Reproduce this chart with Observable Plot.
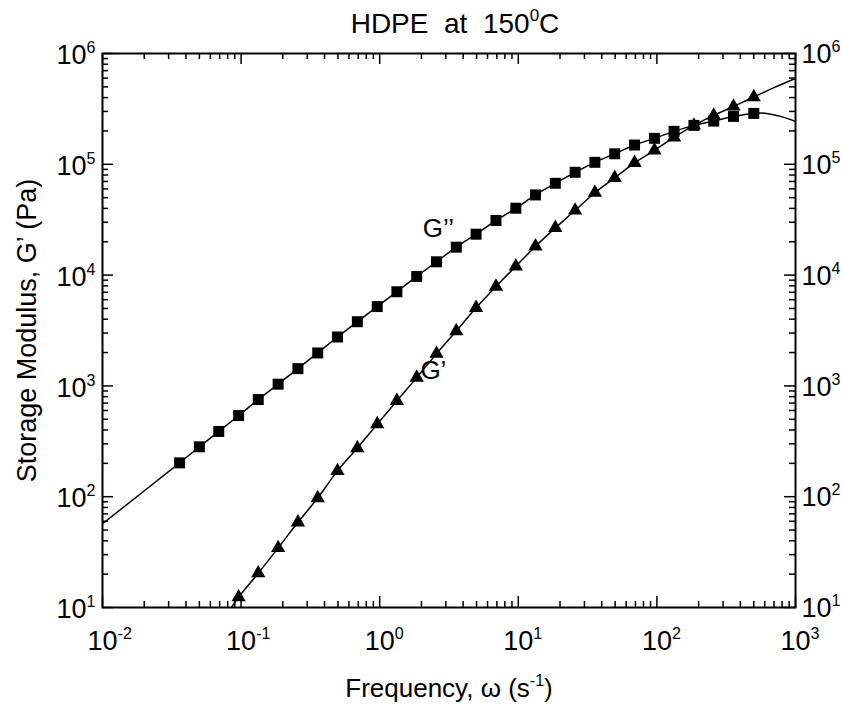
<!DOCTYPE html>
<html>
<head>
<meta charset="utf-8">
<script src="https://cdn.jsdelivr.net/npm/d3@7"></script>
<script src="https://cdn.jsdelivr.net/npm/@observablehq/plot@0.6"></script>
<style>
  body { margin: 0; background: #fff; }
  svg text { white-space: pre; }
</style>
</head>
<body>
<div id="chart"></div>
<script>
// ---- data ----
const frequency = [0.036, 0.050, 0.069, 0.096, 0.133, 0.185, 0.257, 0.357, 0.496, 0.69,
                   0.96, 1.33, 1.85, 2.57, 3.57, 4.96, 6.9, 9.6, 13.3, 18.5,
                   25.7, 35.7, 49.6, 69, 96, 133, 185, 257, 357, 500];
const lossModulus = [202, 282, 388, 540, 753, 1036, 1432, 1983, 2763, 3795,
                     5200, 7075, 9730, 13180, 17870, 23400, 31100, 40150, 52900, 67400,
                     84700, 104200, 124400, 149200, 171500, 198300, 224500, 245500, 270600, 287900];
const storageFrequency = frequency.slice(3);
const storageModulus = [12.4, 20.4, 34.5, 58.7, 97.3, 171, 275, 452, 733, 1188,
                        1955, 3128, 5073, 7875, 12000, 18170, 26700, 38300, 55400, 75500,
                        103200, 133700, 175000, 224500, 276300, 333200, 404700];
// fitted-curve extensions beyond the measured range
const lossFitLowFreq = [0.01], lossFitLowVal = [57];
const lossFitHighFreq = [600, 800, 1000], lossFitHighVal = [289000, 268000, 244000];
const storageFitLowFreq = [0.085], storageFitLowVal = [10];
const storageFitHighFreq = [700, 1000], storageFitHighVal = [492000, 596000];
// curve labels
const curveLabelText = ["G\u2019\u2019", "G\u2019"];
const curveLabelFreq = [2.65, 2.44];
const curveLabelVal = [26500, 1365];
// ticks
const xMajor = [0.01, 0.1, 1, 10, 100, 1000];
const xTickLabels = ["10{-2}", "10{-1}", "10{0}", "10{1}", "10{2}", "10{3}"];
const yMajor = [10, 100, 1000, 10000, 100000, 1000000];
const yTickLabels = ["10{1}", "10{2}", "10{3}", "10{4}", "10{5}", "10{6}"];
const titleText = "HDPE\u00a0 at\u00a0 150{0}C";
const xTitle = "Frequency, \u03c9 (s{-1})";
const yTitle = "Storage Modulus, G\u2019 (Pa)";

// ---- build tables ----
const pts = (fs, vs) => fs.map((f, i) => ({f, v: vs[i]}));
const lossData = pts(frequency, lossModulus);
const storageData = pts(storageFrequency, storageModulus);
const lossFit = [...pts(lossFitLowFreq, lossFitLowVal), ...lossData, ...pts(lossFitHighFreq, lossFitHighVal)];
const storageFit = [...pts(storageFitLowFreq, storageFitLowVal), ...storageData, ...pts(storageFitHighFreq, storageFitHighVal)];
const curveLabels = curveLabelText.map((t, i) => ({t, f: curveLabelFreq[i], v: curveLabelVal[i]}));
const minorOf = (majors) => { const out = []; for (const m of majors.slice(0, -1)) for (let k = 2; k <= 9; k++) out.push(m * k); return out; };
const xMinor = minorOf(xMajor), yMinor = minorOf(yMajor);

// ---- layout ----
const W = 842, H = 704, mL = 102, mR = 47, mT = 53, mB = 97;
const fw = W - mL - mR, fh = H - mT - mB;
const majLen = 11, minLen = 6;
const tickStyle = {stroke: "black", strokeWidth: 1.5};
const tickFont = 27;

const chart = Plot.plot({
  width: W, height: H,
  marginLeft: mL, marginRight: mR, marginTop: mT, marginBottom: mB,
  style: {fontFamily: '"Liberation Sans", Arial, Helvetica, sans-serif', background: "white", overflow: "visible"},
  x: {type: "log", domain: [0.01, 1000], axis: null},
  y: {type: "log", domain: [10, 1e6], axis: null},
  marks: [
    Plot.tickX(xMajor, {x: d => d, insetTop: fh - majLen, ...tickStyle}),
    Plot.tickX(xMajor, {x: d => d, insetBottom: fh - majLen, ...tickStyle}),
    Plot.tickX(xMinor, {x: d => d, insetTop: fh - minLen, ...tickStyle}),
    Plot.tickX(xMinor, {x: d => d, insetBottom: fh - minLen, ...tickStyle}),
    Plot.tickY(yMajor, {y: d => d, insetRight: fw - majLen, ...tickStyle}),
    Plot.tickY(yMajor, {y: d => d, insetLeft: fw - majLen, ...tickStyle}),
    Plot.tickY(yMinor, {y: d => d, insetRight: fw - minLen, ...tickStyle}),
    Plot.tickY(yMinor, {y: d => d, insetLeft: fw - minLen, ...tickStyle}),
    Plot.line(lossFit, {x: "f", y: "v", curve: "catmull-rom", stroke: "black", strokeWidth: 1.5, clip: true}),
    Plot.line(storageFit, {x: "f", y: "v", curve: "catmull-rom", stroke: "black", strokeWidth: 1.5, clip: true}),
    Plot.dot(lossData, {x: "f", y: "v", symbol: "square", r: 6.2, fill: "black"}),
    Plot.dot(storageData, {x: "f", y: "v", symbol: "triangle", r: 5.3, fill: "black"}),
    Plot.text(curveLabels, {x: "f", y: "v", text: "t", fontSize: 26, fill: "black"}),
    Plot.frame({stroke: "black", strokeWidth: 2}),
    // tick labels
    Plot.text(xMajor, {x: d => d, frameAnchor: "bottom", lineAnchor: "middle", dy: 34, dx: -15, text: (d, i) => xTickLabels[i], textAnchor: "start", fontSize: tickFont, fill: "black"}),
    Plot.text(yMajor, {y: d => d, frameAnchor: "left", lineAnchor: "middle", dx: -7, dy: 2, text: (d, i) => yTickLabels[i], textAnchor: "end", fontSize: tickFont, fill: "black"}),
    Plot.text(yMajor, {y: d => d, frameAnchor: "right", lineAnchor: "middle", dx: 6, dy: 1, text: (d, i) => yTickLabels[i], textAnchor: "start", fontSize: tickFont, fill: "black"}),
    // titles
    Plot.text([titleText], {frameAnchor: "top", lineAnchor: "middle", textAnchor: "middle", dx: 6, dy: -29, text: d => d, fontSize: 28, fill: "black"}),
    Plot.text([xTitle], {frameAnchor: "bottom", lineAnchor: "middle", textAnchor: "middle", dy: 81, text: d => d, fontSize: 26, fill: "black"}),
    Plot.text([yTitle], {frameAnchor: "left", lineAnchor: "middle", textAnchor: "middle", dx: -75, rotate: -90, text: d => d, fontSize: 27, fill: "black"})
  ]
});

document.getElementById("chart").appendChild(chart);

// superscripts: text inside {...} is raised and smaller
d3.select(chart).selectAll("text").each(function () {
  const s = this.textContent;
  if (!s.includes("{")) return;
  const base = parseFloat(getComputedStyle(this).fontSize) || 20;
  const supFs = Math.round(base * 0.6);
  const shift = Math.round(base * 0.42);
  const parts = s.split(/(\{[^}]*\})/).filter(p => p.length);
  const t = d3.select(this);
  t.text(null);
  let raised = false;
  for (const p of parts) {
    if (p.startsWith("{")) {
      t.append("tspan").attr("font-size", supFs).attr("dy", -shift).text(p.slice(1, -1));
      raised = true;
    } else {
      const ts = t.append("tspan").text(p);
      if (raised) { ts.attr("dy", shift); raised = false; }
    }
  }
});
</script>
</body>
</html>
